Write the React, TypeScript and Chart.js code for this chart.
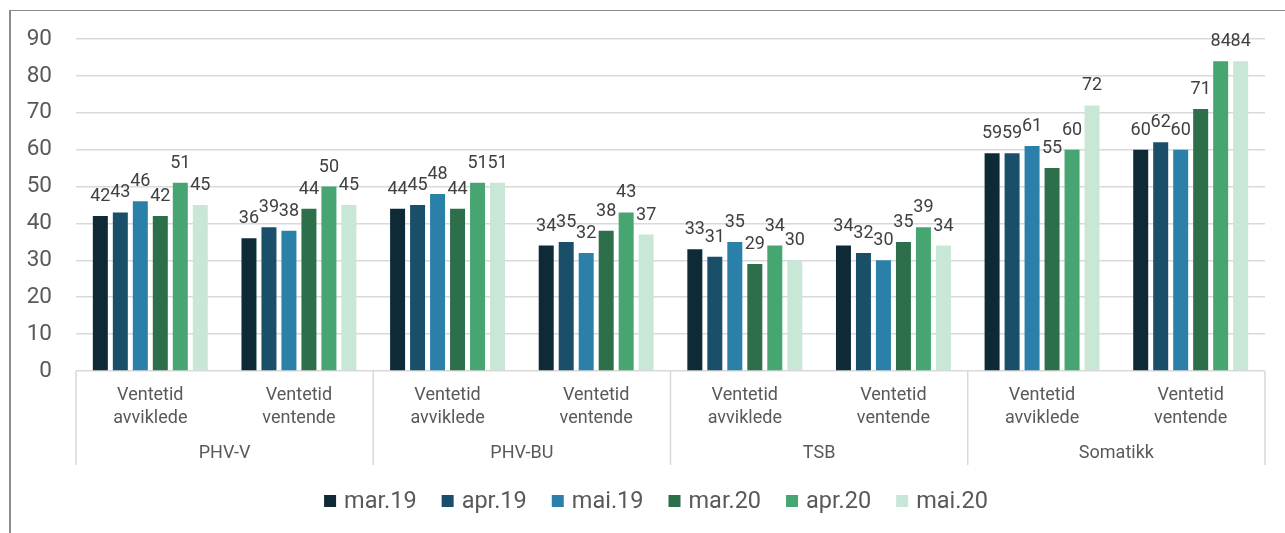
import React, { useEffect, useRef } from 'react';
import { Chart, registerables } from 'chart.js';

Chart.register(...registerables);

// ---- Data ----
const categoryLines: string[][] = [
  ['Ventetid', 'avviklede'], ['Ventetid', 'ventende'],
  ['Ventetid', 'avviklede'], ['Ventetid', 'ventende'],
  ['Ventetid', 'avviklede'], ['Ventetid', 'ventende'],
  ['Ventetid', 'avviklede'], ['Ventetid', 'ventende'],
];
const groups = ['PHV-V', 'PHV-BU', 'TSB', 'Somatikk'];
const seriesNames = ['mar.19', 'apr.19', 'mai.19', 'mar.20', 'apr.20', 'mai.20'];

const mar19 = [42, 36, 44, 34, 33, 34, 59, 60];
const apr19 = [43, 39, 45, 35, 31, 32, 59, 62];
const mai19 = [46, 38, 48, 32, 35, 30, 61, 60];
const mar20 = [42, 44, 44, 38, 29, 35, 55, 71];
const apr20 = [51, 50, 51, 43, 34, 39, 60, 84];
const mai20 = [45, 45, 51, 37, 30, 34, 72, 84];
const seriesValues = [mar19, apr19, mai19, mar20, apr20, mai20];

const yTicks = [0, 10, 20, 30, 40, 50, 60, 70, 80, 90];

// ---- Styles ----
const colors = ['#0e2a36', '#1a4f6a', '#2a80a9', '#2d6e4b', '#46a570', '#c9e7d7'];
const FONT = 'Roboto';
const axisText = '#595959';
const labelText = '#404040';
const gridColor = '#d9d9d9';

const overlayPlugin = {
  id: 'overlay',
  afterDraw(chart: any) {
    const ctx = chart.ctx as CanvasRenderingContext2D;
    const area = chart.chartArea;
    const xs = chart.scales.x;
    ctx.save();

    // data labels
    ctx.font = `18px ${FONT}`;
    ctx.fillStyle = labelText;
    ctx.textAlign = 'center';
    ctx.textBaseline = 'alphabetic';
    chart.data.datasets.forEach((ds: any, di: number) => {
      const meta = chart.getDatasetMeta(di);
      meta.data.forEach((el: any, i: number) => {
        ctx.fillText(String(ds.data[i]), el.x, el.y - 15);
      });
    });

    // category labels
    ctx.font = `18px ${FONT}`;
    ctx.fillStyle = axisText;
    const n = categoryLines.length;
    const catW = (area.right - area.left) / n;
    categoryLines.forEach((lines, i) => {
      const x = xs.getPixelForValue(i);
      lines.forEach((t, li) => {
        ctx.fillText(t, x, area.bottom + 29 + li * 23);
      });
    });

    // group labels and dividers
    const per = n / groups.length;
    groups.forEach((g, gi) => {
      const x0 = area.left + gi * per * catW;
      const x1 = x0 + per * catW;
      ctx.fillText(g, (x0 + x1) / 2, area.bottom + 87);
    });
    ctx.strokeStyle = gridColor;
    ctx.lineWidth = 1.5;
    for (let gi = 0; gi <= groups.length; gi++) {
      const x = area.left + gi * per * catW;
      ctx.beginPath();
      ctx.moveTo(x, area.bottom);
      ctx.lineTo(x, area.bottom + 94);
      ctx.stroke();
    }

    // legend
    ctx.font = `23.5px ${FONT}`;
    ctx.textAlign = 'left';
    const box = 12;
    const boxGap = 8;
    const itemGap = 25;
    const widths = seriesNames.map((s) => box + boxGap + ctx.measureText(s).width);
    const total = widths.reduce((a, b) => a + b, 0) + itemGap * (seriesNames.length - 1);
    const cx = 656;
    let x = cx - total / 2;
    const baseY = 508;
    seriesNames.forEach((s, i) => {
      ctx.fillStyle = colors[i];
      ctx.fillRect(x, baseY - 13, box, box);
      ctx.fillStyle = axisText;
      ctx.fillText(s, x + box + boxGap, baseY);
      x += widths[i] + itemGap;
    });

    ctx.restore();
  },
};

export default function App() {
  const ref = useRef<HTMLCanvasElement>(null);

  useEffect(() => {
    const canvas = ref.current;
    if (!canvas) return;
    const chart = new Chart(canvas, {
      type: 'bar',
      data: {
        labels: categoryLines.map((l) => l.join(' ')),
        datasets: seriesNames.map((name, i) => ({
          label: name,
          data: seriesValues[i],
          backgroundColor: colors[i],
          barPercentage: 0.75,
          categoryPercentage: 0.807,
        })),
      },
      options: {
        responsive: false,
        animation: false,
        layout: { padding: { left: 0, top: 39, right: 20, bottom: 162 } },
        plugins: {
          legend: { display: false },
          tooltip: { enabled: false },
        },
        scales: {
          x: { display: false },
          y: {
            min: 0,
            max: 90,
            afterBuildTicks: (scale: any) => {
              scale.ticks = yTicks.map((v) => ({ value: v }));
            },
            ticks: {
              color: axisText,
              font: { family: FONT, size: 22.5 },
              padding: 24,
            },
            grid: { color: gridColor, lineWidth: 1.5, drawTicks: false },
            border: { display: false },
            afterFit: (scale: any) => {
              scale.width = 76;
            },
          },
        },
      },
      plugins: [overlayPlugin],
    } as any);
    return () => chart.destroy();
  }, []);

  return (
    <div style={{ position: 'absolute', left: 0, top: 0, width: 1285, height: 533, overflow: 'hidden', background: '#fff' }}>
      <div
        style={{
          position: 'absolute',
          left: 9,
          top: 10,
          width: 1400,
          height: 700,
          borderTop: '1px solid #8c8c8c',
          borderLeft: '2px solid #8c8c8c',
        }}
      />
      <canvas ref={ref} width={1285} height={533} style={{ position: 'absolute', left: 0, top: 0 }} />
    </div>
  );
}
